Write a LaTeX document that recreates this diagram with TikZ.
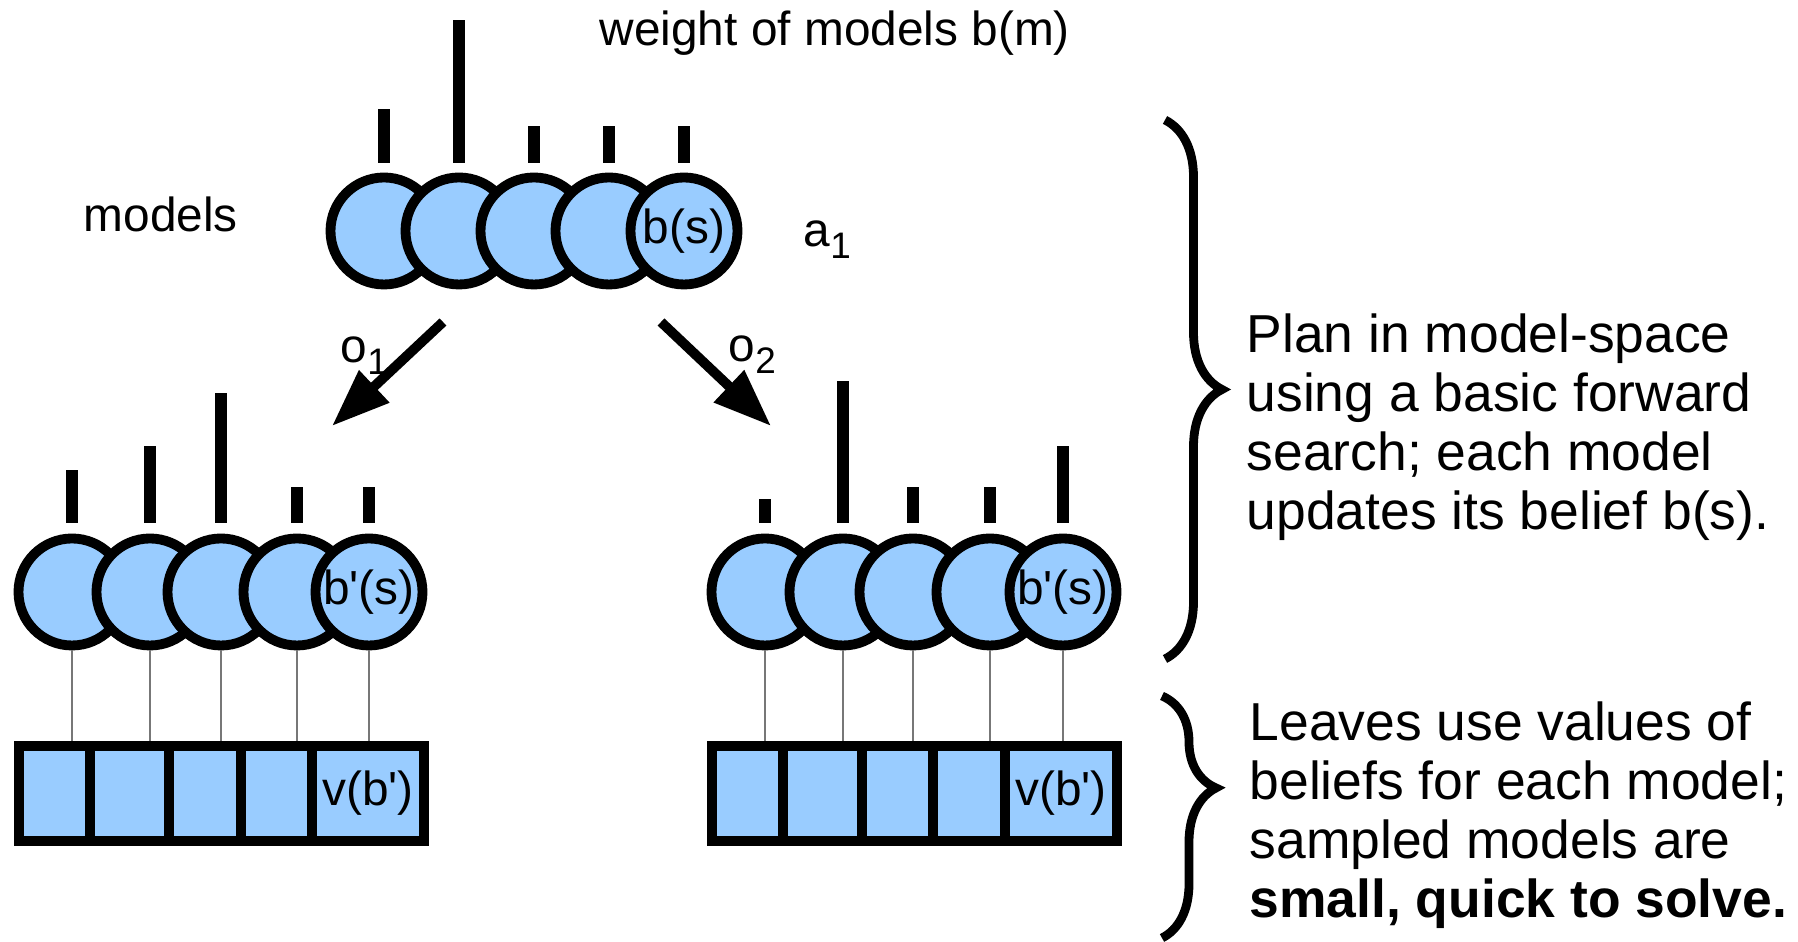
\documentclass[tikz,border=0pt]{standalone}
\usepackage{fontspec}
\setmainfont{Liberation Sans}[Ligatures=TeXOff]
\usepackage{tikz}
\usetikzlibrary{arrows.meta,positioning,decorations.pathreplacing}
\definecolor{modelblue}{HTML}{99CCFF}
\definecolor{linkgray}{HTML}{777777}
\newcommand{\lowsub}[1]{\raisebox{-3.2pt}{\fontsize{10.5}{12}\selectfont #1}}

\begin{document}
\begin{tikzpicture}[x=1cm,y=1cm,
  model/.style={circle,draw=black,fill=modelblue,line width=2.8pt,minimum size=1.07cm,inner sep=0pt,font=\fontsize{13.6}{16}\selectfont},
  leaf/.style={rectangle,draw=black,fill=modelblue,line width=2.8pt,minimum height=0.95cm,inner sep=0pt,outer sep=0pt,font=\fontsize{13.6}{16}\selectfont},
  weight/.style={line width=3.4pt},
  link/.style={draw=linkgray,line width=0.5pt,shorten >=1.4pt},
  obs/.style={line width=2.8pt,-{Triangle[length=5.8mm,width=4.2mm]}},
  lbl/.style={inner sep=0pt,font=\fontsize{13.6}{16}\selectfont},
  note/.style={inner sep=0pt,align=left,anchor=north west,font=\fontsize{15.2}{16.8}\selectfont},
  bracket/.style={decorate,line width=2.5pt}]
\useasboundingbox (0,0) rectangle (17.98,9.42);

\node[lbl,anchor=base west] (wtitle) at (5.99,8.96) {weight of models b(m)};
\node[lbl,anchor=base west] (mlabel) at (0.83,7.10) {models};
\node[lbl,anchor=base west] (alabel) at (8.03,6.95) {a\lowsub{1}};

\node[model] (t1) at (3.84,7.11) {};
\node[model] (t2) at (4.59,7.11) {};
\node[model] (t3) at (5.34,7.11) {};
\node[model] (t4) at (6.09,7.11) {};
\node[model] (t5) at (6.84,7.11) {b(s)};
\draw[weight] ([yshift=1mm]t1.north) -- ++(0,0.54);
\draw[weight] ([yshift=1mm]t2.north) -- ++(0,1.43);
\draw[weight] ([yshift=1mm]t3.north) -- ++(0,0.37);
\draw[weight] ([yshift=1mm]t4.north) -- ++(0,0.37);
\draw[weight] ([yshift=1mm]t5.north) -- ++(0,0.37);

\coordinate (o1start) at (4.43,6.20);
\coordinate (o1end) at (3.32,5.16);
\coordinate (o2start) at (6.61,6.20);
\coordinate (o2end) at (7.71,5.16);
\draw[obs] (o1start) -- (o1end);
\draw[obs] (o2start) -- (o2end);
\node[lbl,anchor=base west] (o1label) at (3.40,5.79) {o\lowsub{1}};
\node[lbl,anchor=base west] (o2label) at (7.28,5.80) {o\lowsub{2}};

\node[model] (b1) at (0.72,3.50) {};
\node[model] (b2) at (1.50,3.50) {};
\node[model] (b3) at (2.21,3.50) {};
\node[model] (b4) at (2.97,3.50) {};
\node[model] (b5) at (3.69,3.50) {b'(s)};
\draw[weight] ([yshift=1.1mm]b1.north) -- ++(0,0.53);
\draw[weight] ([yshift=1.1mm]b2.north) -- ++(0,0.77);
\draw[weight] ([yshift=1.1mm]b3.north) -- ++(0,1.30);
\draw[weight] ([yshift=1.1mm]b4.north) -- ++(0,0.36);
\draw[weight] ([yshift=1.1mm]b5.north) -- ++(0,0.36);

\node[leaf,minimum width=0.71cm,anchor=west] (l1) at (0.19,1.485) {};
\node[leaf,minimum width=0.79cm,right=0pt of l1] (l2) {};
\node[leaf,minimum width=0.72cm,right=0pt of l2] (l3) {};
\node[leaf,minimum width=0.71cm,right=0pt of l3] (l4) {};
\node[leaf,minimum width=1.12cm,right=0pt of l4] (l5) {v(b')};
\draw[link] (b1.south) -- (b1.south |- l1.north);
\draw[link] (b2.south) -- (b2.south |- l2.north);
\draw[link] (b3.south) -- (b3.south |- l3.north);
\draw[link] (b4.south) -- (b4.south |- l4.north);
\draw[link] (b5.south) -- (b5.south |- l5.north);

\node[model] (c1) at (7.65,3.50) {};
\node[model] (c2) at (8.43,3.50) {};
\node[model] (c3) at (9.13,3.50) {};
\node[model] (c4) at (9.90,3.50) {};
\node[model] (c5) at (10.63,3.50) {b'(s)};
\draw[weight] ([yshift=1.1mm]c1.north) -- ++(0,0.24);
\draw[weight] ([yshift=1.1mm]c2.north) -- ++(0,1.42);
\draw[weight] ([yshift=1.1mm]c3.north) -- ++(0,0.36);
\draw[weight] ([yshift=1.1mm]c4.north) -- ++(0,0.36);
\draw[weight] ([yshift=1.1mm]c5.north) -- ++(0,0.77);

\node[leaf,minimum width=0.71cm,anchor=west] (r1) at (7.12,1.485) {};
\node[leaf,minimum width=0.79cm,right=0pt of r1] (r2) {};
\node[leaf,minimum width=0.71cm,right=0pt of r2] (r3) {};
\node[leaf,minimum width=0.72cm,right=0pt of r3] (r4) {};
\node[leaf,minimum width=1.12cm,right=0pt of r4] (r5) {v(b')};
\draw[link] (c1.south) -- (c1.south |- r1.north);
\draw[link] (c2.south) -- (c2.south |- r2.north);
\draw[link] (c3.south) -- (c3.south |- r3.north);
\draw[link] (c4.south) -- (c4.south |- r4.north);
\draw[link] (c5.south) -- (c5.south |- r5.north);

\coordinate (plantop) at (11.65,8.22);
\coordinate (planbot) at (11.65,2.83);
\coordinate (leaftop) at (11.62,2.46);
\coordinate (leafbot) at (11.62,0.04);
\draw[bracket,decoration={brace,amplitude=0.57cm}] (plantop) -- (planbot);
\draw[bracket,decoration={brace,amplitude=0.54cm,aspect=0.38}] (leaftop) -- (leafbot);

\node[note] (plannote) at (12.46,6.29) {Plan in model-space\\using a basic forward\\search; each model\\updates its belief b(s).};
\node[note] (leafnote) at (12.49,2.41) {Leaves use values of\\beliefs for each model;\\sampled models are\\\textbf{small, quick to solve.}};
\end{tikzpicture}
\end{document}
